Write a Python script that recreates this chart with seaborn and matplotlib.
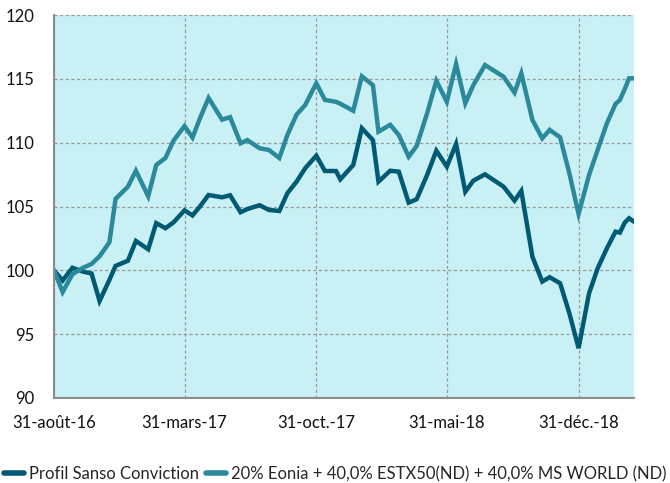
import pandas as pd
import numpy as np
import matplotlib.pyplot as plt
import matplotlib.dates as mdates
import seaborn as sns

# Data
dates = ['2016-08-31', '2016-09-14', '2016-09-30', '2016-10-17', '2016-10-31',
         '2016-11-13', '2016-11-29', '2016-12-09', '2016-12-29', '2017-01-11',
         '2017-01-31', '2017-02-13', '2017-02-28', '2017-03-13', '2017-03-31',
         '2017-04-13', '2017-04-25', '2017-05-09', '2017-05-31', '2017-06-13',
         '2017-06-30', '2017-07-11', '2017-07-31', '2017-08-15', '2017-09-01',
         '2017-09-14', '2017-09-29', '2017-10-13', '2017-10-31', '2017-11-14',
         '2017-12-02', '2017-12-09', '2017-12-30', '2018-01-13', '2018-01-31',
         '2018-02-09', '2018-02-28', '2018-03-14', '2018-03-30', '2018-04-12',
         '2018-04-29', '2018-05-14', '2018-05-31', '2018-06-15', '2018-06-30',
         '2018-07-13', '2018-08-01', '2018-08-31', '2018-09-18', '2018-09-29',
         '2018-10-17', '2018-11-02', '2018-11-14', '2018-12-01', '2018-12-16',
         '2018-12-31', '2019-01-17', '2019-01-31', '2019-02-15', '2019-03-01',
         '2019-03-08', '2019-03-16', '2019-03-23', '2019-03-31']

profil = [100.0, 99.2, 100.2, 99.9, 99.75,
          97.6, 99.25, 100.35, 100.75, 102.3,
          101.65, 103.7, 103.3, 103.75, 104.7,
          104.3, 105.0, 105.9, 105.72, 105.88,
          104.55, 104.8, 105.1, 104.73, 104.65,
          106.04, 106.95, 108.0, 108.98, 107.78,
          107.78, 107.13, 108.25, 111.13, 110.2,
          106.95, 107.8, 107.73, 105.3, 105.57,
          107.47, 109.37, 108.12, 109.9, 106.16,
          107.02, 107.52, 106.56, 105.46, 106.22,
          101.07, 99.12, 99.46, 98.99, 96.64,
          93.9, 98.2, 100.16, 101.73, 103.03,
          102.95, 103.74, 104.08, 103.81]

indice = [100.0, 98.3, 99.7, 100.2, 100.5,
          101.1, 102.2, 105.6, 106.55, 107.8,
          105.8, 108.25, 108.8, 110.15, 111.3,
          110.4, 111.9, 113.5, 111.8, 112.0,
          109.95, 110.2, 109.56, 109.43, 108.8,
          110.6, 112.2, 112.95, 114.65, 113.35,
          113.2, 113.05, 112.5, 115.2, 114.5,
          110.86, 111.4, 110.6, 108.9, 109.74,
          112.3, 114.85, 113.2, 116.16, 113.09,
          114.5, 116.08, 115.17, 113.92, 115.43,
          111.78, 110.34, 111.0, 110.42, 107.6,
          104.42, 107.47, 109.43, 111.52, 113.03,
          113.34, 114.2, 115.04, 115.04]

tick_dates = ['2016-08-31', '2017-03-31', '2017-10-31', '2018-05-31', '2018-12-31']
tick_labels = ['31-août-16', '31-mars-17', '31-oct.-17', '31-mai-18', '31-déc.-18']

serie_1 = 'Profil Sanso Conviction'
serie_2 = '20% Eonia + 40,0% ESTX50(ND) + 40,0% MS WORLD (ND)'

df = pd.DataFrame({'Date': pd.to_datetime(dates), serie_1: profil, serie_2: indice})
df_long = df.melt(id_vars='Date', var_name='Serie', value_name='Valeur')

sns.set_style('white')
plt.rcParams['font.family'] = ['Lato', 'DejaVu Sans']

fig = plt.figure(figsize=(6.7, 4.83), dpi=100)
ax = fig.add_axes([54 / 670, 1 - 398 / 483, 580 / 670, 383 / 483])
ax.set_facecolor('#c9f0f4')

sns.lineplot(data=df_long, x='Date', y='Valeur', hue='Serie',
             palette=['#005a73', '#2a8a9c'], linewidth=3.2, ax=ax,
             solid_joinstyle='miter')

ax.set_ylim(90, 120)
ax.set_yticks(range(90, 121, 5))
ax.set_xlim(pd.Timestamp('2016-08-31'), pd.Timestamp('2019-03-31'))
ax.set_xticks(pd.to_datetime(tick_dates))
ax.set_xticklabels(tick_labels)
ax.grid(True, color='#999999', linestyle=(0, (2.5, 2)), linewidth=0.9)
ax.set_axisbelow(True)

for s in ['top', 'right']:
    ax.spines[s].set_visible(False)
for s in ['left', 'bottom']:
    ax.spines[s].set_color('#8c8c8c')
    ax.spines[s].set_linewidth(1.5)

ax.tick_params(axis='both', which='both', direction='out', length=6,
               color='#8c8c8c', width=1.2, labelsize=12, labelcolor='#111111')
ax.tick_params(axis='y', pad=8)
ax.tick_params(axis='x', pad=6)
ax.set_xlabel('')
ax.set_ylabel('')

ax.legend_.remove()
handles, labels = ax.get_legend_handles_labels()
fig.legend(handles, labels, loc='center', bbox_to_anchor=(0.5, 1 - 474 / 483),
           ncol=2, frameon=False, fontsize=12, handlelength=1.2,
           handletextpad=0.3, columnspacing=0.4, borderaxespad=0)
for h in fig.legends[0].get_lines():
    h.set_linewidth(4)

fig.savefig('out.png', dpi=100)
